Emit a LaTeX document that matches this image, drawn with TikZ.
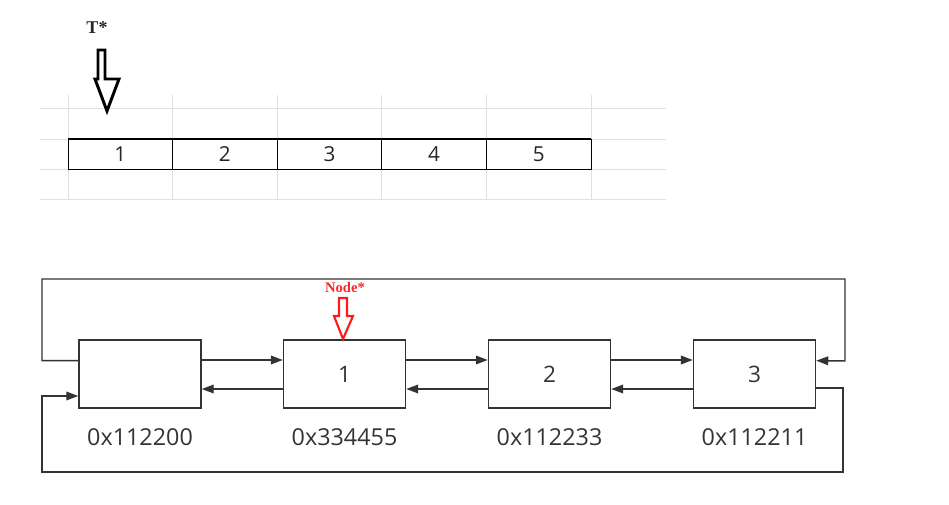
\documentclass[tikz,border=0pt]{standalone}
\usepackage{fontspec}
\setmainfont{Open Sans}
\newfontfamily\ptrfont{Liberation Serif}
\usetikzlibrary{positioning,arrows.meta,calc}
\tikzset{
  cell/.style={draw=black, line width=0.6pt, minimum width=78.45pt, minimum height=22.5pt,
    inner sep=0pt, font=\fontsize{15.5}{17}\selectfont, text=black!85},
  listbox/.style={draw=black!80, line width=1.1pt, minimum width=91.5pt, minimum height=51pt,
    inner sep=0pt, font=\fontsize{17}{20}\selectfont, text=black!80},
  addr/.style={font=\fontsize{17.5}{20}\selectfont, text=black!80},
  wire/.style={draw=black!80, line width=1.1pt},
  link/.style={wire, -{Triangle[length=9pt,width=6.5pt]}},
}
\begin{document}
\begin{tikzpicture}[x=0.75pt,y=-0.75pt]
\useasboundingbox (0,0) rectangle (949,505);
% Grid
\foreach \y in {108,139,169,199}
  \draw[gray!25, line width=0.6pt] (40,\y) -- (666,\y);
\foreach \i in {0,...,5}
  \draw[gray!25, line width=0.6pt] ({68+104.6*\i},95) -- ({68+104.6*\i},199);
% Array cells
\foreach \i in {1,...,5}
  \node[cell] (c\i) at ({68+104.6*(\i-0.5)},154) {\i};
\draw[line width=1.6pt] (c1.north west) -- (c5.north east);
% T* pointer
\node[font=\ptrfont\bfseries\fontsize{13.5}{15}\selectfont, text=black!85] (tptr) at (97,28) {T*};
\draw[line width=2.2pt, line join=miter]
  (98,50) -- (105,50) -- (105,79) -- (119,79) -- (107,111) -- (95,79) -- (98,79) -- cycle;
% List nodes
\node[listbox] (b0) at (140,374) {};
\node[listbox] (b1) at (344.5,374) {1};
\node[listbox] (b2) at (549.5,374) {2};
\node[listbox] (b3) at (754.5,374) {3};
% Addresses
\foreach \i/\txt in {0/0x112200,1/0x334455,2/0x112233,3/0x112211}
  \node[addr] (a\i) at ([yshift=-21pt]b\i.south) {\txt};
% next / prev links
\foreach \i/\j in {0/1,1/2,2/3} {
  \draw[link] ([yshift=10.5pt]b\i.east) -- ([yshift=10.5pt]b\j.west);
  \draw[link] ([yshift=-11.25pt]b\j.west) -- ([yshift=-11.25pt]b\i.east);
}
% Wrap-around links
\draw[link] ([yshift=10pt]b0.west) -| (42,279) -| (845,361) -- ([yshift=10pt]b3.east);
\draw[link] ([yshift=-10.5pt]b3.east) -| (843,472) -| (42,396) -- ([yshift=-16.5pt]b0.west);
% Node* pointer
\node[font=\ptrfont\bfseries\fontsize{11}{13}\selectfont, text=red!85] (nptr) at (345,287) {Node*};
\draw[red!90, line width=1.6pt, line join=miter]
  (339,298) -- (347,298) -- (347,316) -- (353,316) -- (343,339) -- (334,316) -- (339,316) -- cycle;
\end{tikzpicture}
\end{document}
